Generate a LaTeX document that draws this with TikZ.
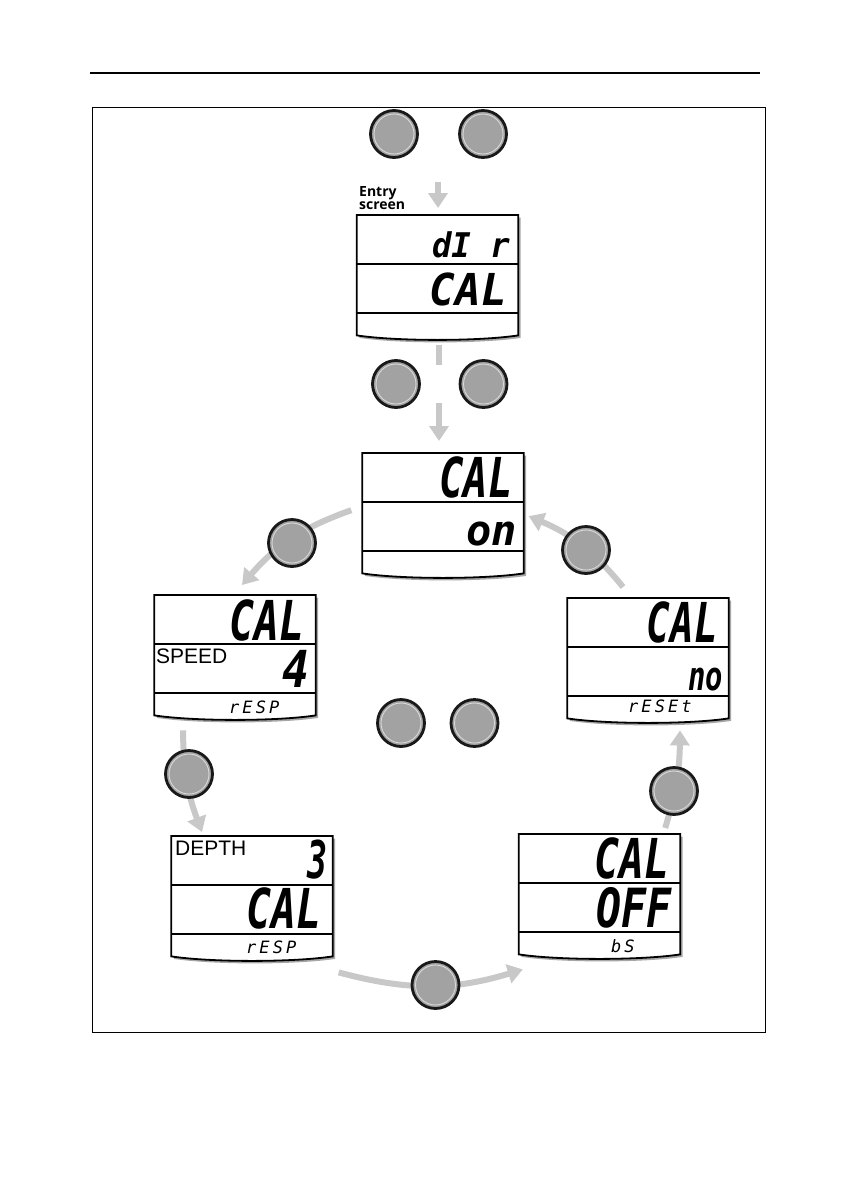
\documentclass[tikz,border=0pt]{standalone}
\usepackage{fontspec}
\usepackage{graphicx}
\usetikzlibrary{arrows.meta}
\setmainfont{Liberation Sans}
\newfontfamily\segfont{DejaVu Sans Mono}
\newfontfamily\labfont{Open Sans}
\definecolor{flowgray}{HTML}{C8C8C8}
\definecolor{btngray}{HTML}{A2A2A2}
\newcommand\seg[3]{{\segfont\bfseries\itshape\fontsize{#1}{#1}\selectfont\scalebox{#2}[1]{#3}}}
\newcommand\segsmall[1]{{\segfont\itshape\fontsize{17}{17}\selectfont\addfontfeature{LetterSpace=18}#1}}
\newcommand\dpath[3]{([shift={(#2,#3)}]#1.north west) -- ([shift={(#2,#3)}]#1.north east) -- ([shift={(#2,#3)}]#1.south east) .. controls ([shift={(#2-40,#3+6)}]#1.south east) and ([shift={(#2+40,#3+6)}]#1.south west) .. ([shift={(#2,#3)}]#1.south west) -- cycle}
\newcommand\dispframe[1]{%
  \fill[black!35] \dpath{#1}{2.5}{2.5};
  \filldraw[fill=white, draw=black, line width=1.8pt] \dpath{#1}{0}{0};
  \draw[line width=1.8pt] ([shift={(0,49)}]#1.north west) -- ([shift={(0,49)}]#1.north east);
  \draw[line width=1.8pt] ([shift={(0,98)}]#1.north west) -- ([shift={(0,98)}]#1.north east);}
\begin{document}
\begin{tikzpicture}[x=1pt,y=-1pt,
  flow/.style={draw=flowgray, line width=6pt, -{Triangle[width=19pt,length=15pt]}},
  btn/.style={circle, minimum size=47pt, inner sep=0pt, fill=btngray, draw=black!90, line width=2.8pt,
    path picture={\draw[white!85!black, line width=0.9pt] (path picture bounding box.center) circle (20pt);}},
  disp/.style={minimum width=161pt, minimum height=120pt, inner sep=0pt, anchor=north},
  txt/.style={inner sep=0pt, anchor=base east},
  lab/.style={inner sep=0pt, anchor=base west}]
\useasboundingbox (0,0) rectangle (854,1204);
\fill[white] (0,0) rectangle (854,1204);
\draw[line width=1.2pt] (90,73) -- (760,73);
\draw[line width=1pt] (92,108) rectangle (765,1032);

% displays
\node[disp] (entry) at (437.5,215) {};
\node[disp] (on) at (443,453) {};
\node[disp] (speed) at (235,595) {};
\node[disp] (reset) at (648,598) {};
\node[disp] (depth) at (252,836) {};
\node[disp] (off) at (599.5,834) {};
\dispframe{entry}
\dispframe{on}
\dispframe{speed}
\dispframe{reset}
\dispframe{depth}
\dispframe{off}

% texts
\node[inner sep=0pt, anchor=north west, align=left, font=\labfont\bfseries\fontsize{14}{13}\selectfont] (entrylab) at (359,186) {Entry\\screen};
\node[txt] (t1a) at (510,257) {\seg{34}{0.95}{dI r}};
\node[txt] (t1b) at (507,305) {\seg{44}{0.97}{CAL}};
\node[txt] (t2a) at (513,497) {\seg{55}{0.74}{CAL}};
\node[txt] (t2b) at (517,545) {\seg{42}{1}{on}};
\node[txt] (t3a) at (305,640) {\seg{55}{0.755}{CAL}};
\node[txt] (t3b) at (310,687) {\seg{51}{0.88}{4}};
\node[lab] (t3c) at (156,663) {\fontsize{21}{21}\selectfont SPEED};
\node[lab] (t3d) at (229,713) {\segsmall{rESP}};
\node[txt] (t4a) at (718,642) {\seg{55}{0.715}{CAL}};
\node[txt] (t4b) at (723,690) {\seg{40}{0.72}{no}};
\node[lab] (t4c) at (628,712) {\segsmall{rESEt}};
\node[lab] (t5a) at (175,855) {\fontsize{21}{21}\selectfont DEPTH};
\node[txt] (t5b) at (328,878) {\seg{52}{0.64}{3}};
\node[txt] (t5c) at (322,928) {\seg{55}{0.755}{CAL}};
\node[lab] (t5d) at (246,953) {\segsmall{rESP}};
\node[txt] (t6a) at (670,878) {\seg{55}{0.755}{CAL}};
\node[txt] (t6b) at (672,927) {\seg{54}{0.77}{OFF}};
\node[lab] (t6c) at (611,952) {\segsmall{bS}};

% flow arrows
\coordinate (topstart) at (438,182);
\draw[flow] (topstart) -- ([shift={(0.5,-7)}]entry.north);
\draw[flow, dash pattern=on 20pt off 38pt on 300pt] ([shift={(1.5,10)}]entry.south) -- ([shift={(-4,-12)}]on.north);
\draw[flow] ([shift={(-11,-3)}]on.west) to[bend right=15] ([shift={(7,-10)}]speed.north);
\draw[flow] ([shift={(-25,-11)}]reset.north) to[bend right=14] ([shift={(5,3)}]on.east);
\draw[flow] ([shift={(-52,15)}]speed.south) to[bend right=10] ([shift={(-50,-4)}]depth.north);
\draw[flow] ([shift={(6,16)}]depth.south east) to[bend right=16] ([shift={(4,15)}]off.south west);
\draw[flow] ([shift={(-15,-6)}]off.north east) to[bend right=8] ([shift={(32,12)}]reset.south);

% buttons
\node[btn] (b1) at (394,134) {};
\node[btn] (b2) at (483,134) {};
\node[btn] (b3) at (396,384) {};
\node[btn] (b4) at (483.5,384) {};
\node[btn] (b5) at (292,543) {};
\node[btn] (b6) at (586,550) {};
\node[btn] (b7) at (401,723) {};
\node[btn] (b8) at (474.5,723) {};
\node[btn] (b9) at (189,774) {};
\node[btn] (b10) at (674,791) {};
\node[btn] (b11) at (435.5,985) {};
\end{tikzpicture}
\end{document}
